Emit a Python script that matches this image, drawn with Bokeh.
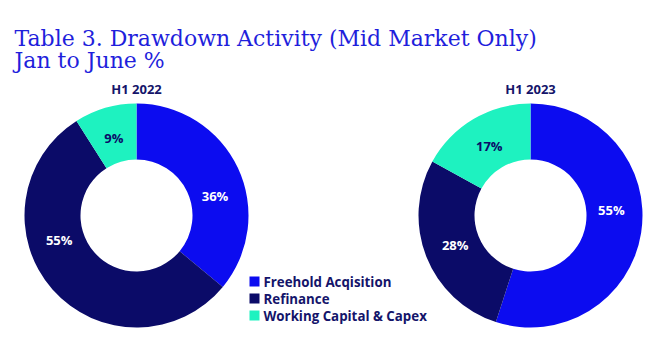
import numpy as np
from bokeh.plotting import figure
from bokeh.models import Range1d, ColumnDataSource
from bokeh.core.properties import value
from bokeh.embed import file_html
from bokeh.resources import INLINE

# ---- data ----
categories = ["Freehold Acqisition", "Refinance", "Working Capital & Capex"]
periods = ["H1 2022", "H1 2023"]
values_2022 = [36, 55, 9]
values_2023 = [55, 28, 17]
title_lines = ["Table 3. Drawdown Activity (Mid Market Only)", "Jan to June %"]

# ---- style ----
colors = ["#0c0cf0", "#0b0b68", "#1ef2c0"]
label_colors = ["white", "white", "#0b0b68"]
navy = "#14146a"
title_blue = "#1f1fdc"
W, H = 650, 349
centers = [(136, 215), (530, 215)]          # pixel positions of donut centres
label_nudge = [[11, 24, 0], [-13, 0, 0]]     # degrees, label placement tweak
R_OUT, R_IN, R_LAB = 112, 56, 81

p = figure(width=W, height=H, x_range=Range1d(0, W), y_range=Range1d(0, H),
           x_axis_type=None, y_axis_type=None, toolbar_location=None,
           output_backend="svg", min_border=0, outline_line_color=None)
p.grid.visible = False
p.background_fill_color = "white"
p.border_fill_color = "white"

def Y(y):
    return H - y

# title
for i, line in enumerate(title_lines):
    p.text(x=[14], y=[Y(38 + i * 22)], text=[line], text_color=title_blue,
           text_font=value("DejaVu Serif"), text_font_size="22px",
           text_baseline="alphabetic", text_align="left")

for (cx, cy), period, vals, nudges in zip(centers, periods, [values_2022, values_2023], label_nudge):
    vals = np.array(vals, dtype=float)
    frac = vals / vals.sum()
    cum = np.concatenate([[0], np.cumsum(frac)])
    start = np.pi / 2 - cum[1:] * 2 * np.pi
    end = np.pi / 2 - cum[:-1] * 2 * np.pi
    src = ColumnDataSource(dict(x=[cx] * 3, y=[Y(cy)] * 3, start=start, end=end, color=colors))
    p.annular_wedge(x="x", y="y", inner_radius=R_IN, outer_radius=R_OUT,
                    start_angle="start", end_angle="end", color="color",
                    line_color=None, source=src)
    mid = (cum[:-1] + cum[1:]) / 2 * 360 + np.array(nudges)
    th = np.deg2rad(mid)
    lx = cx + R_LAB * np.sin(th)
    ly = Y(cy) + R_LAB * np.cos(th)
    p.text(x=lx, y=ly, text=[f"{int(v)}%" for v in vals], text_color=label_colors,
           text_font=value("Open Sans"), text_font_style="bold", text_font_size="13px",
           text_align="center", text_baseline="middle")
    p.text(x=[cx], y=[Y(88)], text=[period], text_color=navy,
           text_font=value("Open Sans"), text_font_style="bold", text_font_size="13px",
           text_align="center", text_baseline="middle")

# legend
for i, (cat, col) in enumerate(zip(categories, colors)):
    yy = Y(281 + i * 17)
    p.rect(x=[254], y=[yy], width=10, height=10, fill_color=col, line_color=None)
    p.text(x=[263], y=[yy], text=[cat], text_color=navy,
           text_font=value("Open Sans"), text_font_style="bold", text_font_size="13.3px",
           text_align="left", text_baseline="middle")

open("out.html", "w").write(file_html(p, INLINE))
